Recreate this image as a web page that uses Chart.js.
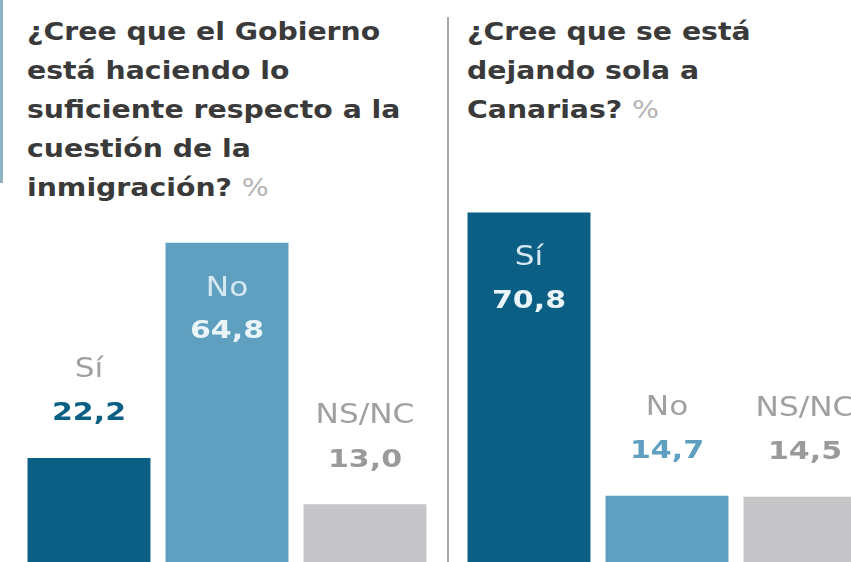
<!DOCTYPE html>
<html>
<head>
<meta charset="utf-8">
<script src="https://cdn.jsdelivr.net/npm/chart.js@4/dist/chart.umd.min.js"></script>
<style>
  html, body { margin: 0; padding: 0; background: #fff; }
  body { width: 851px; height: 562px; overflow: hidden; position: relative; font-family: "DejaVu Sans", sans-serif; }
  .title { position: absolute; top: 13px; font-size: 24px; font-weight: 700; line-height: 39px; color: #3a3a3a; transform: scaleX(1.18); transform-origin: 0 0; white-space: nowrap; }
  .title span { color: #b4b4b4; font-weight: 400; }
  canvas { position: absolute; top: 0; }
  #edge { position: absolute; left: 0; top: 0; width: 3px; height: 183px; background: #8fb3c3; }
  #sep { position: absolute; left: 447px; top: 17px; width: 2px; height: 545px; background: #a8a8a8; }
</style>
</head>
<body>
<div id="edge"></div>
<div id="sep"></div>
<div class="title" style="left:27px">¿Cree que el Gobierno<br>está haciendo lo<br>suficiente respecto a la<br>cuestión de la<br>inmigración? <span>%</span></div>
<div class="title" style="left:467px">¿Cree que se está<br>dejando sola a<br>Canarias? <span>%</span></div>
<canvas id="chartGobierno" width="440" height="580" style="left:0"></canvas>
<canvas id="chartCanarias" width="440" height="580" style="left:440px"></canvas>
<script>
const categories = ['Sí', 'No', 'NS/NC'];
const gobiernoValues = [22.2, 64.8, 13.0];
const canariasValues = [70.8, 14.7, 14.5];
const barColors = ['#0b5f84', '#5fa0c0', '#c6c6c8'];
const valueColors = ['#0b5f84', '#5fa0c0', '#9a9a9a'];

// texto un poco ensanchado, como en el original
function wideText(ctx, txt, x, y) {
  ctx.save();
  ctx.translate(x, y);
  ctx.scale(1.2, 1);
  ctx.fillText(txt, 0, 0);
  ctx.restore();
}

// etiquetas encima de la barra, o dentro si la barra es alta
const barLabels = {
  id: 'barLabels',
  afterDatasetsDraw(chart) {
    const ctx = chart.ctx;
    const meta = chart.getDatasetMeta(0);
    const values = chart.data.datasets[0].data;
    ctx.save();
    ctx.textAlign = 'center';
    ctx.textBaseline = 'middle';
    meta.data.forEach((bar, i) => {
      const inside = bar.base - bar.y > 250;
      const txt = values[i].toFixed(1).replace('.', ',');
      let yCat, yVal;
      if (inside) {
        yCat = bar.y + 46;
        yVal = bar.y + 89;
      } else {
        yCat = bar.y - 88;
        yVal = bar.y - 44;
      }
      ctx.font = '400 26px "DejaVu Sans", sans-serif';
      ctx.fillStyle = inside ? '#d6e8f1' : '#a0a0a0';
      wideText(ctx, chart.data.labels[i], bar.x, yCat);
      ctx.font = '700 25px "DejaVu Sans", sans-serif';
      ctx.fillStyle = inside ? '#eaf5fa' : valueColors[i];
      wideText(ctx, txt, bar.x, yVal);
    });
    ctx.restore();
  },
};

function makeChart(el, values) {
  // eslint-disable-next-line no-undef
  return new Chart(el, {
    type: 'bar',
    data: {
      labels: categories,
      datasets: [
        {
          data: values,
          backgroundColor: barColors,
          borderWidth: 0,
          categoryPercentage: 1,
          barPercentage: 0.891,
        },
      ],
    },
    options: {
      responsive: false,
      animation: false,
      layout: { padding: { left: 20, right: 6, top: 65, bottom: 10 } },
      plugins: { legend: { display: false }, tooltip: { enabled: false } },
      scales: {
        x: { display: false },
        y: { display: false, min: 0, max: 100 },
      },
    },
    plugins: [barLabels],
  });
}

makeChart(document.getElementById('chartGobierno'), gobiernoValues);
makeChart(document.getElementById('chartCanarias'), canariasValues);
</script>
</body>
</html>
